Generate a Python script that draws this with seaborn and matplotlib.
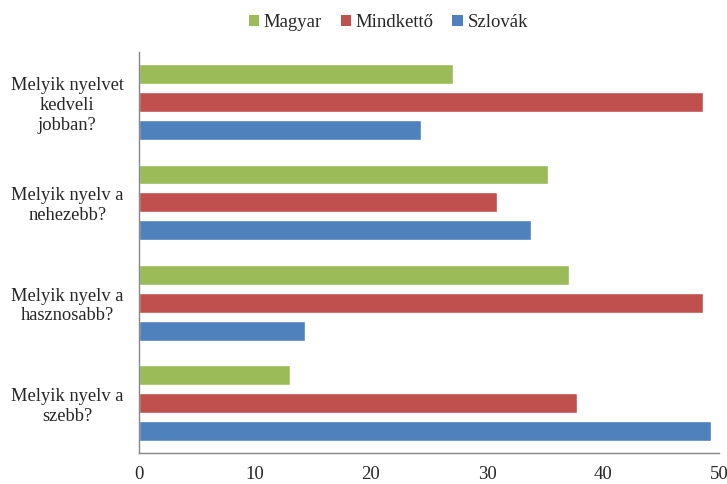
import matplotlib

matplotlib.use("Agg")
import matplotlib.pyplot as plt
import pandas as pd
import seaborn as sns
from matplotlib.patches import Patch

questions = [
    "Melyik nyelvet\nkedveli\njobban?",
    "Melyik nyelv a\nnehezebb?",
    "Melyik nyelv a\nhasznosabb?",
    "Melyik nyelv a\nszebb?",
]
series = ["Magyar", "Mindkettő", "Szlovák"]
magyar = [27.1, 35.3, 37.1, 13.0]
mindketto = [48.6, 30.9, 48.6, 37.8]
szlovak = [24.3, 33.8, 14.3, 49.3]
colors = ["#9BBB59", "#C0504D", "#4F81BD"]
x_ticks = [0, 10, 20, 30, 40, 50]

rows = []
for name, vals in zip(series, [magyar, mindketto, szlovak]):
    for q, v in zip(questions, vals):
        rows.append({"question": q, "series": name, "value": v})
df = pd.DataFrame(rows)

sns.set_style("white")
plt.rcParams["font.family"] = ["Liberation Serif", "DejaVu Serif"]

fig = plt.figure(figsize=(7.27, 4.84), dpi=100)
ax = fig.add_axes([0.191, 0.064, 0.798, 0.8286])

sns.barplot(
    data=df, y="question", x="value", hue="series",
    order=questions, hue_order=series, palette=colors,
    orient="h", width=0.835, gap=0.286, saturation=1,
    legend=False, ax=ax,
)

ax.set_xlim(0, 50)
ax.set_ylim(len(questions) - 0.5, -0.5)
ax.set_xticks(x_ticks)
ax.set_xticklabels([str(t) for t in x_ticks], fontsize=13.5)
ax.set_xlabel("")
ax.set_ylabel("")

# category labels centred, tick marks on group boundaries
ax.set_yticks(range(len(questions)))
ax.set_yticklabels(questions, fontsize=13.3, ha="right",
                   multialignment="center", linespacing=1.22)
ax.tick_params(axis="y", which="major", length=0, pad=11)
ax.set_yticks([i - 0.5 for i in range(len(questions) + 1)], minor=True)
ax.tick_params(axis="y", which="minor", length=5, color="#868686", width=1)
ax.tick_params(axis="x", which="major", length=4, color="#868686", width=1,
               direction="out", pad=5)

for side in ["top", "right"]:
    ax.spines[side].set_visible(False)
for side in ["left", "bottom"]:
    ax.spines[side].set_color("#868686")
    ax.spines[side].set_linewidth(1)

handles = [Patch(facecolor=c, edgecolor="none") for c in colors]
fig.legend(
    handles, series, loc="center", bbox_to_anchor=(0.534, 0.953), ncol=3,
    frameon=False, fontsize=13.5, handlelength=0.55, handleheight=0.55,
    handletextpad=0.25, columnspacing=1.0,
)

fig.savefig("out.png", dpi=100, facecolor="white")
plt.close(fig)
